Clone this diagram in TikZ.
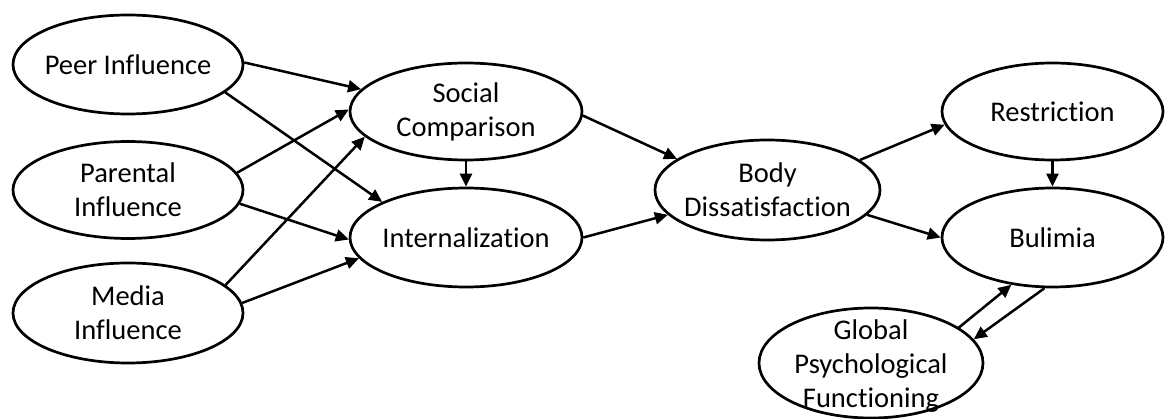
\documentclass[tikz,border=0pt]{standalone}
\usepackage{fontspec}
\setmainfont{Carlito}[RawFeature={-liga}]
\usetikzlibrary{arrows.meta,shapes.geometric}
\begin{document}
\begin{tikzpicture}[x=1pt,y=-1pt,
  oval/.style={draw=black,line width=2.7pt,shape=ellipse,inner sep=0pt},
  txt/.style={align=center,font=\fontsize{28.5}{34}\selectfont,inner sep=0pt},
  arr/.style={line width=2.5pt,-{Triangle[length=13pt,width=12pt]}}]
\fill[white] (0,0) rectangle (1175,419);
\useasboundingbox (0,0) rectangle (1175,419);
\node[oval,minimum width=230pt,minimum height=99pt] (peer) at (128,64.5) {};
\node[oval,minimum width=230pt,minimum height=97pt] (par) at (128,190) {};
\node[oval,minimum width=230pt,minimum height=100pt] (med) at (128,313) {};
\node[oval,minimum width=232pt,minimum height=97pt] (soc) at (466,111.5) {};
\node[oval,minimum width=232pt,minimum height=99pt] (int) at (466,237.5) {};
\node[oval,minimum width=225pt,minimum height=100pt] (body) at (767.5,190) {};
\node[oval,minimum width=221pt,minimum height=97pt] (res) at (1052.5,111.5) {};
\node[oval,minimum width=221pt,minimum height=99pt] (bul) at (1052.5,237.5) {};
\node[oval,minimum width=224pt,minimum height=110pt] (glob) at (871,363) {};
\node[txt] (tpeer) at (peer.center) {Peer Influence};
\node[txt] (tpar) at (par.center) {Parental\\Influence};
\node[txt] (tmed) at (med.center) {Media\\Influence};
\node[txt] (tsoc) at (soc.center) {Social\\Comparison};
\node[txt] (tint) at (int.center) {Internalization};
\node[txt] (tbody) at (body.center) {Body\\Dissatisfaction};
\node[txt] (tres) at (res.center) {Restriction};
\node[txt] (tbul) at (bul.center) {Bulimia};
\node[txt] (tglob) at ([yshift=-3pt]glob.center) {Global\\Psychological\\Functioning};
\draw[arr] (peer.1) -- (soc.168);
\draw[arr] (peer.-16) -- (int.157);
\draw[arr] (par.9) -- (soc.179);
\draw[arr] (par.-7) -- (int.181);
\draw[arr] (med.16) -- (soc.194);
\draw[arr] (med.5) -- (int.191);
\draw[arr] (soc.south) -- (int.north);
\draw[arr] (soc.-2) -- (body.161);
\draw[arr] (int.0) -- (body.194);
\draw[arr] (body.18.5) -- (res.187);
\draw[arr] (body.-14) -- (bul.180);
\draw[arr] (res.south) -- (bul.north);
\draw[arr] (glob.22.5) -- (bul.229.5);
\draw[arr] (bul.261.6) -- (glob.13.5);
\end{tikzpicture}
\end{document}
